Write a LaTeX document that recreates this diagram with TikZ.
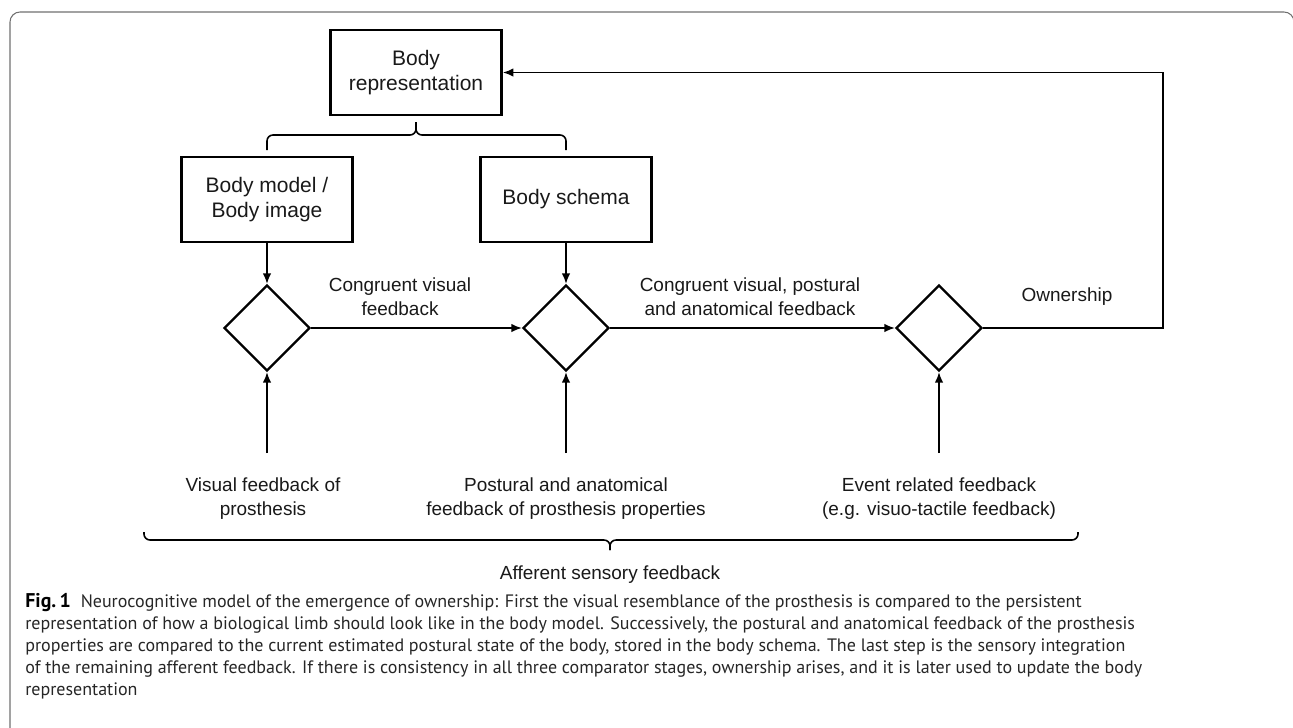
\documentclass[tikz,border=0pt]{standalone}
\usepackage{fontspec}
\setmainfont{Liberation Sans}
\newfontfamily\capfont{PT Sans}
\usepackage{xcolor}
\usepackage{tikz}
\usetikzlibrary{shapes.geometric,arrows.meta}

\definecolor{framegray}{HTML}{707070}
\definecolor{captext}{HTML}{262626}

\begin{document}
\begin{tikzpicture}[x=0.02cm,y=-0.02cm,
		every node/.style={font=\fontsize{10.8}{13.7}\selectfont, text=black!90},
		box/.style={draw, line width=1.6pt, minimum width=3.42cm, minimum height=1.7cm, align=center, inner sep=0pt, font=\fontsize{11.95}{14.2}\selectfont},
		cmp/.style={draw, diamond, line width=1.3pt, minimum width=1.72cm, minimum height=1.72cm, inner sep=0pt},
		lbl/.style={align=center, inner sep=0pt},
		flow/.style={-{Latex[length=0.21cm,width=0.17cm]}, line width=0.9pt},
		brk/.style={line width=0.9pt, rounded corners=0.12cm}]
		\useasboundingbox (0,0) rectangle (1293,727);
		\draw[framegray, line width=0.6pt, rounded corners=0.2cm] (10,12) rectangle (1294,780);
		
		\node[box] (rep) at (416,72.5) {Body\\representation};
		\node[box] (model) at (267,199.5) {Body model /\\Body image};
		\node[box] (schema) at (566,199.5) {Body schema};
		
		\node[cmp] (c1) at (267,328) {};
		\node[cmp] (c2) at (566,328) {};
		\node[cmp] (c3) at (939,328) {};
		
		\draw[brk] (267,150) |- (416,135) -- (416,122);
		\draw[brk] (566,150) |- (416,135) -- (416,122);
		
		\draw[flow] (model) -- (c1);
		\draw[flow] (schema) -- (c2);
		\draw[flow] (c1) -- (c2);
		\draw[flow] (c2) -- (c3);
		\coordinate (turn) at (1163,328);
		\draw[flow] (c3.east) -- (turn) |- (rep.east);
		
		\node[lbl] (l12) at (400,297) {Congruent visual\\feedback};
		\node[lbl] (l23) at (750,297) {Congruent visual, postural\\and anatomical feedback};
		\node[lbl] (own) at (1067,297) {Ownership};
		
		\node[lbl] (in1) at (263,499) {Visual feedback of\\prosthesis};
		\node[lbl] (in2) at (566,499) {Postural and anatomical\\feedback of prosthesis properties};
		\node[lbl] (in3) at (939,499) {Event related feedback\\(e.g. visuo-tactile feedback)};
		\coordinate (s1) at (267,453);
		\coordinate (s2) at (566,453);
		\coordinate (s3) at (939,453);
		\draw[flow] (s1) -- (c1.south);
		\draw[flow] (s2) -- (c2.south);
		\draw[flow] (s3) -- (c3.south);
		
		\draw[brk] (144,532) |- (610,540) -- (610,550);
		\draw[brk] (1078,532) |- (610,540) -- (610,550);
		\node[lbl] (aff) at (610,575) {Afferent sensory feedback};
		
		\node[anchor=north west, align=left, inner sep=0pt, text=captext,
			font=\capfont\fontsize{10.24}{12.52}\selectfont] (cap) at (25,593)
			{{\fontsize{11.3}{12.52}\selectfont\bfseries\color{black}Fig.\,1}\hspace{0.55em}Neurocognitive model of the emergence of ownership: First the visual resemblance of the prosthesis is compared to the persistent\\
			representation of how a biological limb should look like in the body model. Successively, the postural and anatomical feedback of the prosthesis\\
			properties are compared to the current estimated postural state of the body, stored in the body schema. The last step is the sensory integration\\
			of the remaining afferent feedback. If there is consistency in all three comparator stages, ownership arises, and it is later used to update the body\\
			representation};
	\end{tikzpicture}
\end{document}
